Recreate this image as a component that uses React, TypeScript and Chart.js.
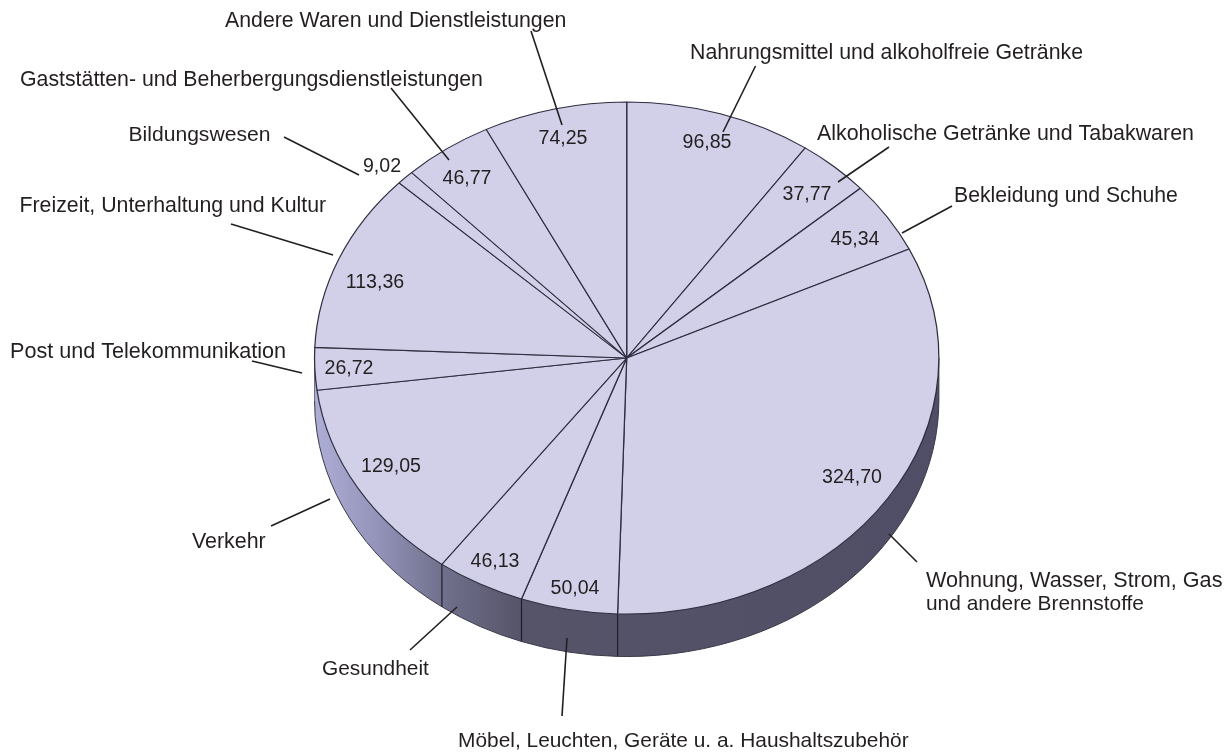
import React, { useEffect, useRef } from "react";
import { Chart, registerables } from "chart.js";

Chart.register(...registerables);

const categories = [
  "Nahrungsmittel und alkoholfreie Getränke",
  "Alkoholische Getränke und Tabakwaren",
  "Bekleidung und Schuhe",
  "Wohnung, Wasser, Strom, Gas und andere Brennstoffe",
  "Möbel, Leuchten, Geräte u. a. Haushaltszubehör",
  "Gesundheit",
  "Verkehr",
  "Post und Telekommunikation",
  "Freizeit, Unterhaltung und Kultur",
  "Bildungswesen",
  "Gaststätten- und Beherbergungsdienstleistungen",
  "Andere Waren und Dienstleistungen",
];
const values = [96.85, 37.77, 45.34, 324.7, 50.04, 46.13, 129.05, 26.72, 113.36, 9.02, 46.77, 74.25];

const CX = 626.7, CY = 358, RX = 312.8, RY = 256, DEPTH = 42.5;
const TEXT = "#231f20";
const FAMILY = '"Liberation Sans", Arial, sans-serif';
const VALUE_FONT = `19.6px ${FAMILY}`;

// [x, y] text centres of the value labels, in data order
const valueAt = [[707,143],[807,195],[855,240],[852,478],[575,589],[495,562],[391,467],[349,369],[375,283],[382,167],[467,179],[563,139]];
// name label lines: [text, left x, middle y, font px]
const nameAt: [string, number, number, number][] = [
  ["Nahrungsmittel und alkoholfreie Getränke", 690, 53, 21.3],
  ["Alkoholische Getränke und Tabakwaren", 817, 134, 21.4],
  ["Bekleidung und Schuhe", 954, 196, 21.2],
  ["Wohnung, Wasser, Strom, Gas", 926, 581, 21.6],
  ["und andere Brennstoffe", 926, 604, 20.9],
  ["Möbel, Leuchten, Geräte u. a. Haushaltszubehör", 458, 741, 20.9],
  ["Gesundheit", 322, 669, 20.9],
  ["Verkehr", 192, 542, 21.4],
  ["Post und Telekommunikation", 10, 352, 21.6],
  ["Freizeit, Unterhaltung und Kultur", 19.5, 206, 21.3],
  ["Bildungswesen", 128.5, 135, 21.1],
  ["Gaststätten- und Beherbergungsdienstleistungen", 20, 80, 21.3],
  ["Andere Waren und Dienstleistungen", 225, 21, 21.3],
];
const leaderAt = [
  [755.5,66,723,132],[889,147,838,182],[952,206,902,233],[889,534,917,562],
  [567,638,562,716],[457,607,410,650],[330,499,271,526],[252,361,302,373],
  [231,224,333,255],[284,137,359,175],[391,88,449,160],[531,31,562,125],
];

const pie3d = {
  id: "pie3d",
  beforeDatasetsDraw(chart: any) {
    const ctx = chart.ctx;
    const arcs = chart.getDatasetMeta(0).data;
    const g = ctx.createLinearGradient(CX - RX, 0, CX + RX, 0);
    g.addColorStop(0, "#aeaed6");
    g.addColorStop(0.1, "#9494bb");
    g.addColorStop(0.2, "#72728f");
    g.addColorStop(0.33, "#565469");
    g.addColorStop(1, "#504e66");
    ctx.save();
    arcs.forEach((a: any) => {
      const s = Math.max(a.startAngle, 0), e = Math.min(a.endAngle, Math.PI);
      if (e <= s) return;
      const r = a.outerRadius, ry = RY;
      ctx.beginPath();
      ctx.ellipse(a.x, a.y, r, ry, 0, s, e);
      ctx.ellipse(a.x, a.y + DEPTH, r, ry, 0, e, s, true);
      ctx.closePath();
      ctx.fillStyle = g;
      ctx.fill();
      // lower rim
      ctx.beginPath();
      ctx.ellipse(a.x, a.y + DEPTH, r, ry, 0, s, e);
      ctx.strokeStyle = "#3a3948";
      ctx.lineWidth = 1;
      ctx.stroke();
      // seam between neighbouring slices
      if (a.startAngle > 0 && a.startAngle < Math.PI * 0.9) {
        const x = a.x + r * Math.cos(a.startAngle);
        const y = a.y + ry * Math.sin(a.startAngle);
        ctx.beginPath();
        ctx.moveTo(x, y);
        ctx.lineTo(x, y + DEPTH);
        ctx.strokeStyle = "#1f1e2a";
        ctx.lineWidth = 1.2;
        ctx.stroke();
      }
    });
    // silhouette edges of the drum, left and right
    const a0 = arcs[0];
    ctx.lineWidth = 1;
    ctx.strokeStyle = "#3a3948";
    ctx.beginPath();
    ctx.moveTo(a0.x + a0.outerRadius, a0.y);
    ctx.lineTo(a0.x + a0.outerRadius, a0.y + DEPTH);
    ctx.stroke();
    ctx.strokeStyle = "#6f6f86";
    ctx.beginPath();
    ctx.moveTo(a0.x - a0.outerRadius, a0.y + 8);
    ctx.lineTo(a0.x - a0.outerRadius, a0.y + DEPTH);
    ctx.stroke();
    const sy0 = RY / a0.outerRadius;
    ctx.restore();
    ctx.save();
    ctx.translate(0, a0.y);
    ctx.scale(1, sy0);
    ctx.translate(0, -a0.y);
  },
  afterDatasetsDraw(chart: any) {
    const ctx = chart.ctx;
    ctx.restore();
    ctx.save();
    ctx.strokeStyle = TEXT;
    ctx.lineWidth = 1.6;
    leaderAt.forEach(([x1, y1, x2, y2]) => {
      ctx.beginPath();
      ctx.moveTo(x1, y1);
      ctx.lineTo(x2, y2);
      ctx.stroke();
    });
    ctx.fillStyle = TEXT;
    ctx.textBaseline = "middle";
    ctx.font = VALUE_FONT;
    ctx.textAlign = "center";
    values.forEach((v, i) => {
      ctx.fillText(v.toFixed(2).replace(".", ","), valueAt[i][0], valueAt[i][1]);
    });
    ctx.textAlign = "left";
    nameAt.forEach(([t, x, y, size]) => {
      ctx.font = `${size}px ${FAMILY}`;
      ctx.fillText(t, x, y);
    });
    ctx.restore();
  },
};

export default function App() {
  const ref = useRef<HTMLCanvasElement>(null);
  useEffect(() => {
    document.body.style.margin = "0";
    const chart = new Chart(ref.current!, {
      type: "pie",
      data: {
        labels: categories,
        datasets: [{ data: values, backgroundColor: "#d1d0e8", borderColor: "#2e2e40", borderWidth: 1.25 }],
      },
      options: {
        responsive: false,
        animation: false,
        layout: {
          padding: { left: CX - RX, right: 1231 - CX - RX, top: CY - RX, bottom: 756 - CY - RX },
        },
        plugins: { legend: { display: false }, tooltip: { enabled: false } },
      },
      plugins: [pie3d],
    } as any);
    return () => chart.destroy();
  }, []);
  return <canvas ref={ref} width={1231} height={756} style={{ display: "block" }} />;
}
